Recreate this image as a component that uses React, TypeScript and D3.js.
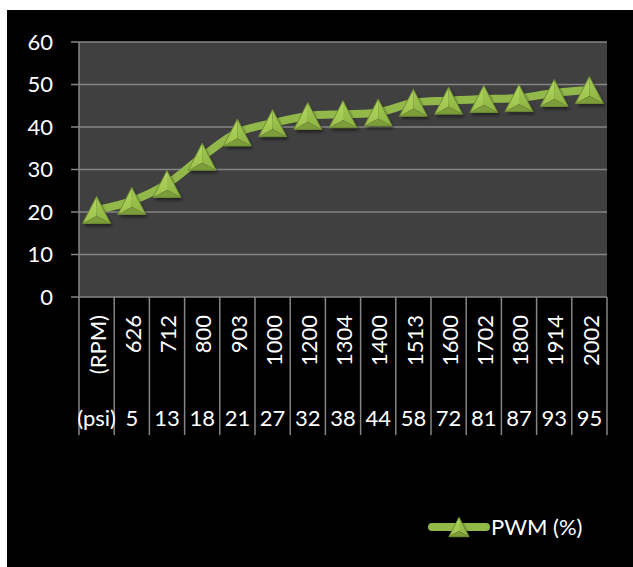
import * as d3 from 'd3';

// chart values
const rpmLabels = ['(RPM)', '626', '712', '800', '903', '1000', '1200', '1304', '1400', '1513', '1600', '1702', '1800', '1914', '2002'];
const psiLabels = ['(psi)', '5', '13', '18', '21', '27', '32', '38', '44', '58', '72', '81', '87', '93', '95'];
const pwmValues = [20.5, 22.6, 26.6, 33.0, 38.7, 40.9, 42.6, 43.0, 43.4, 45.7, 46.2, 46.6, 46.8, 48.0, 48.7];
const yTicks = [0, 10, 20, 30, 40, 50, 60];
const seriesName = 'PWM (%)';

const W = 633;
const H = 567;
const plot = { left: 79, right: 607, top: 42, bottom: 297 };
const axisBottom = 435;
const font = 'Lato, "Open Sans", sans-serif';

const green = '#93b84a';

// pyramid-like triangle marker centred on (0,0)
const Marker = ({ x, y, s = 1 }: { x: number; y: number; s?: number }) => {
  const hw = 14 * s;
  const hh = 13.5 * s;
  const apex: [number, number] = [0, -hh];
  const bl: [number, number] = [-hw, hh];
  const br: [number, number] = [hw, hh];
  const c: [number, number] = [0, hh * 0.45];
  const p = (pts: [number, number][]) => 'M' + pts.map((q) => q.join(',')).join('L') + 'Z';
  return (
    <g transform={`translate(${x},${y})`}>
      <path d={p([apex, bl, br])} transform="translate(2,3)" fill="#000" opacity={0.45} filter="url(#mshadow)" />
      <path d={p([apex, bl, c])} fill="url(#faceL)" />
      <path d={p([apex, c, br])} fill="url(#faceR)" />
      <path d={p([bl, br, c])} fill="#7d9c3a" />
      <path d={p([apex, bl, br])} fill="none" stroke="#6f8c33" strokeWidth={1} strokeLinejoin="round" />
    </g>
  );
};

const App = () => {
  const x = d3
    .scaleBand<string>()
    .domain(rpmLabels.map((_, i) => String(i)))
    .range([plot.left, plot.right])
    .paddingInner(0)
    .paddingOuter(0);
  const cx = (i: number) => (x(String(i)) || 0) + x.bandwidth() / 2;

  const y = d3.scaleLinear().domain([0, 60]).range([plot.bottom, plot.top]);

  const line = d3
    .line<number>()
    .x((_, i) => cx(i))
    .y((d) => y(d))
    .curve(d3.curveCatmullRom.alpha(0.5));

  const bounds = d3.range(rpmLabels.length + 1).map((k) => plot.left + k * x.bandwidth());

  return (
    <svg width={W} height={H} style={{ position: 'absolute', left: 0, top: 0 }}>
      <defs>
        <linearGradient id="faceL" x1="0" y1="0" x2="0" y2="1">
          <stop offset="0" stopColor="#b2d65e" />
          <stop offset="1" stopColor="#9cc24c" />
        </linearGradient>
        <linearGradient id="faceR" x1="0" y1="0" x2="0" y2="1">
          <stop offset="0" stopColor="#a3ca52" />
          <stop offset="1" stopColor="#8db343" />
        </linearGradient>
        <filter id="mshadow" x="-50%" y="-50%" width="200%" height="200%">
          <feGaussianBlur stdDeviation="1.5" />
        </filter>
      </defs>
      <rect x={0} y={0} width={W} height={H} fill="#fff" />
      <rect x={7} y={10} width={W - 7} height={H - 10} fill="#000" />
      <rect x={plot.left} y={plot.top} width={plot.right - plot.left} height={plot.bottom - plot.top} fill="#404040" />

      {/* horizontal grid + y ticks */}
      {yTicks.map((t) => (
        <g key={t}>
          <line x1={71} x2={plot.right} y1={y(t)} y2={y(t)} stroke="#858585" strokeWidth={1.5} />
          <text x={53} y={y(t)} dy="0.36em" textAnchor="end" fill="#fff" fontFamily={font} fontSize={22}>
            {t}
          </text>
        </g>
      ))}
      <line x1={plot.left} x2={plot.left} y1={plot.top} y2={plot.bottom} stroke="#858585" strokeWidth={1.5} />

      {/* category separators */}
      {bounds.map((bx, k) => (
        <line key={k} x1={bx} x2={bx} y1={plot.bottom} y2={axisBottom} stroke="#858585" strokeWidth={1.5} />
      ))}

      {/* rotated RPM labels */}
      {rpmLabels.map((lab, i) => (
        <text
          key={lab}
          transform={`translate(${cx(i)},315) rotate(-90)`}
          dy="0.42em"
          textAnchor="end"
          fill="#fff"
          fontFamily={font}
          fontSize={22}
        >
          {lab}
        </text>
      ))}

      {/* psi labels */}
      {psiLabels.map((lab, i) => (
        <text key={lab + i} x={cx(i)} y={426} textAnchor="middle" fill="#fff" fontFamily={font} fontSize={22}>
          {lab}
        </text>
      ))}

      {/* series line */}
      <path d={line(pwmValues) || ''} fill="none" stroke={green} strokeWidth={8} strokeLinecap="round" strokeLinejoin="round" />
      {pwmValues.map((v, i) => (
        <Marker key={i} x={cx(i)} y={y(v)} />
      ))}

      {/* legend */}
      <line x1={432} x2={486} y1={527} y2={527} stroke={green} strokeWidth={8} strokeLinecap="round" />
      <Marker x={459} y={527} s={0.72} />
      <text x={491} y={535} fill="#fff" fontFamily={font} fontSize={22}>
        {seriesName}
      </text>
    </svg>
  );
};

export default App;
